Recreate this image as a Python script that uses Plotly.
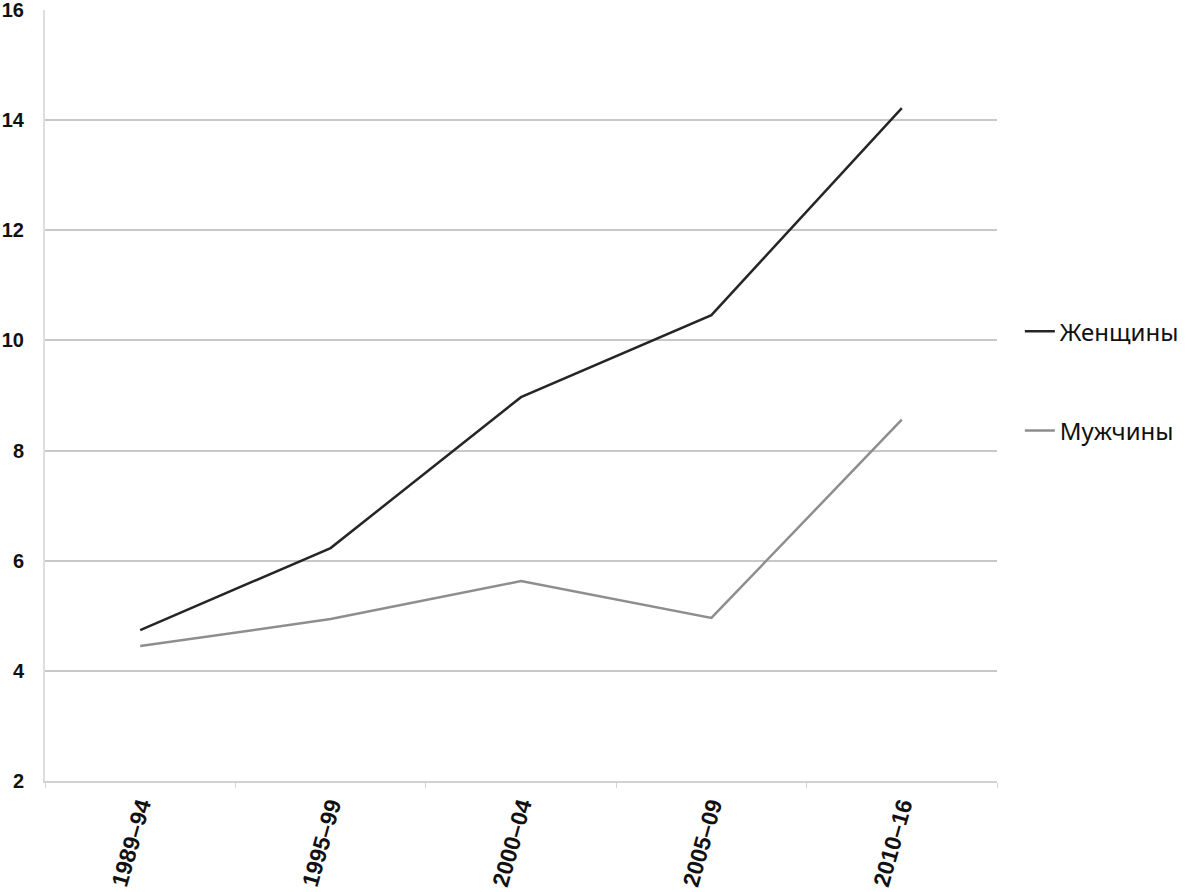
import plotly.graph_objects as go

categories = ["1989–94", "1995–99", "2000–04", "2005–09", "2010–16"]
women = [4.74, 6.23, 8.97, 10.46, 14.22]
men = [4.45, 4.94, 5.63, 4.96, 8.56]
y_ticks = [2, 4, 6, 8, 10, 12, 14, 16]

fig = go.Figure()
fig.add_trace(go.Scatter(x=categories, y=women, mode="lines", name="Женщины",
                         line=dict(color="#262626", width=2.5), legendgroup="w"))
fig.add_trace(go.Scatter(x=categories, y=men, mode="lines", name="Мужчины",
                         line=dict(color="#8e8e8e", width=2.5), legendgroup="m"))

fig.update_layout(
    width=1186, height=892,
    margin=dict(l=45, r=189, t=10, b=111, pad=0, autoexpand=False),
    plot_bgcolor="white", paper_bgcolor="white",
    showlegend=True,
    legend=dict(x=1.024, y=0.612, xanchor="left", yanchor="top",
                font=dict(family="Noto Sans, Open Sans, sans-serif", size=24, color="#111"),
                tracegroupgap=65, itemwidth=30, bgcolor="rgba(0,0,0,0)"),
)
fig.update_xaxes(
    type="category", range=[-0.5, 4.5], showgrid=False,
    showline=True, linecolor="#d2d2d2", linewidth=2,
    ticks="outside", tickson="boundaries", ticklen=5, tickcolor="#d2d2d2", tickwidth=1,
    tickangle=-74,
    tickfont=dict(family="Liberation Sans, Arial, sans-serif", size=23, color="#111", weight="bold"),
)
fig.update_yaxes(
    range=[2, 16], tickvals=y_ticks, showgrid=True, gridcolor="#c8c8c8", gridwidth=2,
    zeroline=False, showline=True, linecolor="#dedede", linewidth=2,
    ticks="", ticklabelstandoff=15, ticklabeloverflow="allow",
    tickfont=dict(family="Liberation Sans, Arial, sans-serif", size=20, color="#111", weight="bold"),
)
fig.write_html("out.html", config={"displayModeBar": False},
               post_script="document.body.style.margin='0';")
